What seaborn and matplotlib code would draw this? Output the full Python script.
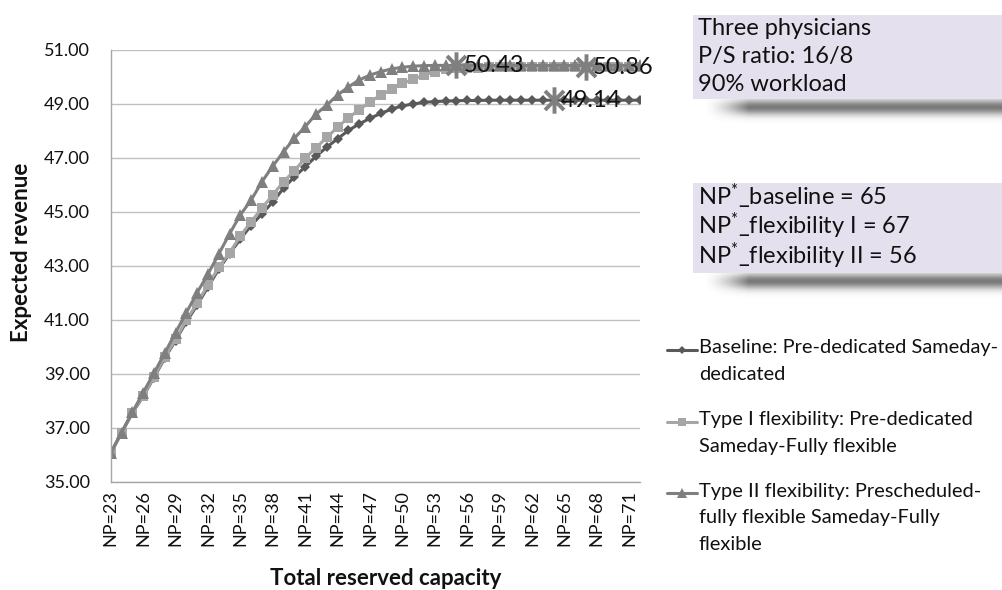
import numpy as np
import pandas as pd
import matplotlib
matplotlib.use("Agg")
import matplotlib.pyplot as plt
import seaborn as sns
from matplotlib.path import Path
from matplotlib.lines import Line2D
from matplotlib.patches import Rectangle

# ---------------------------------------------------------------- data
np_values = list(range(23, 73))

baseline = [36.07, 36.82, 37.55, 38.17, 38.87, 39.58, 40.24, 40.93, 41.55, 42.22,
            42.88, 43.45, 44.00, 44.50, 44.93, 45.37, 45.88, 46.30, 46.67, 47.06,
            47.40, 47.71, 48.02, 48.26, 48.47, 48.65, 48.81, 48.93, 49.00, 49.06,
            49.09, 49.11, 49.12, 49.13, 49.13, 49.14, 49.14, 49.14, 49.14, 49.14,
            49.14, 49.14, 49.14, 49.14, 49.14, 49.14, 49.14, 49.14, 49.14, 49.14]

type_one = [36.07, 36.83, 37.57, 38.19, 38.90, 39.62, 40.28, 41.00, 41.62, 42.30,
            42.95, 43.49, 44.11, 44.64, 45.14, 45.63, 46.12, 46.53, 46.99, 47.38,
            47.76, 48.14, 48.49, 48.78, 49.08, 49.33, 49.54, 49.77, 49.91, 50.07,
            50.20, 50.28, 50.32, 50.34, 50.35, 50.36, 50.36, 50.36, 50.36, 50.36,
            50.36, 50.36, 50.36, 50.36, 50.36, 50.36, 50.36, 50.36, 50.36, 50.36]

type_two = [36.07, 36.83, 37.58, 38.31, 39.03, 39.77, 40.53, 41.27, 42.01, 42.70,
            43.44, 44.19, 44.89, 45.44, 46.12, 46.70, 47.23, 47.73, 48.16, 48.62,
            48.96, 49.33, 49.63, 49.89, 50.07, 50.20, 50.30, 50.36, 50.40, 50.42,
            50.43, 50.43, 50.43, 50.43, 50.43, 50.43, 50.43, 50.43, 50.43, 50.43,
            50.43, 50.43, 50.43, 50.43, 50.43, 50.43, 50.43, 50.43, 50.43, 50.43]

series_labels = [
    "Baseline: Pre-dedicated Sameday-\ndedicated",
    "Type I flexibility: Pre-dedicated\nSameday-Fully flexible",
    "Type II flexibility: Prescheduled-\nfully flexible Sameday-Fully\nflexible",
]

tick_np = list(range(23, 72, 3))
tick_labels = [f"NP={n}" for n in tick_np]
y_ticks = [35, 37, 39, 41, 43, 45, 47, 49, 51]

optimum_np = [64, 67, 55]
optimum_revenue = [49.14, 50.36, 50.43]

info_lines = ["Three physicians", "P/S ratio: 16/8", "90% workload"]
optimum_lines = ["NP$^{*}$_baseline = 65",
                 "NP$^{*}$_flexibility I = 67",
                 "NP$^{*}$_flexibility II = 56"]

# ---------------------------------------------------------------- style
sns.set_style("white")
plt.rcParams["font.family"] = ["Lato", "DejaVu Sans"]
plt.rcParams["mathtext.fontset"] = "custom"
plt.rcParams["mathtext.rm"] = "Lato"
plt.rcParams["mathtext.it"] = "Lato:italic"
plt.rcParams["mathtext.bf"] = "Lato:bold"

colors = ["#595959", "#a6a6a6", "#7f7f7f"]
markers = ["D", "s", "^"]
msizes = [5.5, 7.5, 8.5]

W, H = 1002, 590
fig = plt.figure(figsize=(W / 100, H / 100), dpi=100)

ax_left, ax_right, ax_top, ax_bottom = 110.7, 640, 50, 482
ax = fig.add_axes([ax_left / W, 1 - ax_bottom / H,
                   (ax_right - ax_left) / W, (ax_bottom - ax_top) / H])

frame = pd.DataFrame({"NP": np_values * 3,
                      "revenue": baseline + type_one + type_two,
                      "series": sum([[lab] * len(np_values) for lab in series_labels], [])})

for lab, col, mk, ms in zip(series_labels, colors, markers, msizes):
    sub = frame[frame["series"] == lab]
    sns.lineplot(data=sub, x="NP", y="revenue", ax=ax, color=col, linewidth=2.2,
                 marker=mk, markersize=ms, markeredgewidth=0, legend=False)

# six-armed asterisk marks for the optimum of each policy
star = Path([(0, -1), (0, 1), (-0.72, -0.72), (0.72, 0.72), (-0.72, 0.72), (0.72, -0.72)],
            [Path.MOVETO, Path.LINETO] * 3)
ax.plot(optimum_np, optimum_revenue, linestyle="none", marker=star, markersize=19,
        markeredgewidth=2.8, markeredgecolor="#7f7f7f", zorder=5)
for xv, yv in zip(optimum_np, optimum_revenue):
    ax.annotate(f"{yv:.2f}", (xv, yv), xytext=(5, 0), textcoords="offset points",
                ha="left", va="center", fontsize=17, color="#111111", zorder=6)

ax.set_xlim(23, 72)
ax.set_ylim(35, 51)
ax.set_xticks(tick_np)
ax.set_xticklabels(tick_labels, rotation=90, fontsize=13, color="#111111")
ax.set_yticks(y_ticks)
ax.set_yticklabels([f"{v:.2f}" for v in y_ticks], fontsize=13, color="#111111")
ax.tick_params(axis="x", length=0, pad=6)
ax.tick_params(axis="y", length=0, pad=15)
ax.yaxis.grid(True, color="#c0c0c0", linewidth=1.0)
ax.xaxis.grid(False)
for side in ["top", "right"]:
    ax.spines[side].set_visible(False)
for side in ["left", "bottom"]:
    ax.spines[side].set_color("#a6a6a6")
    ax.spines[side].set_linewidth(1.0)

ax.set_xlabel("Total reserved capacity", fontsize=16, fontweight="bold", color="#111111")
ax.set_ylabel("Expected revenue", fontsize=16, fontweight="bold", color="#111111")
ax.xaxis.set_label_coords(0.52, -0.20)
ax.yaxis.set_label_coords(-0.149, 0.532)

# ---------------------------------------------------------------- side panels
ov = fig.add_axes([0, 0, 1, 1], zorder=3)
ov.set_xlim(0, W)
ov.set_ylim(H, 0)
ov.axis("off")
ov.patch.set_alpha(0)


def shadow(x0, x1, y0, y1):
    nx, ny = 300, 60
    xs = np.linspace(0, 1, nx)
    ys = np.linspace(0, 1, ny)
    gx = np.clip(xs / 0.15, 0, 1) ** 1.5
    gy = np.exp(-((ys - 0.35) / 0.3) ** 2)
    alpha = 0.75 * np.outer(gy, gx)
    rgba = np.zeros((ny, nx, 4))
    rgba[..., :3] = 0.3
    rgba[..., 3] = alpha
    ov.imshow(rgba, extent=(x0, x1, y1, y0), aspect="auto", interpolation="bilinear", zorder=1)


box_fill = "#e5e0ed"
ov.add_patch(Rectangle((693, 15), W - 693, 84, facecolor=box_fill, edgecolor="none", zorder=2))
shadow(704, W, 98, 124)
ov.add_patch(Rectangle((693, 183), W - 693, 90, facecolor=box_fill, edgecolor="none", zorder=2))
shadow(704, W, 272, 298)

ov.text(698, 18, "\n".join(info_lines), fontsize=17, color="#111111", va="top",
        ha="left", linespacing=1.42, zorder=3)
ov.text(698, 182, "\n".join(optimum_lines), fontsize=17, color="#111111", va="top",
        ha="left", linespacing=0.96, zorder=3)

# legend: handle beside the first line of each entry
legend_y = [350, 422, 493]
for lab, col, mk, ms, y in zip(series_labels, colors, markers, msizes, legend_y):
    ov.add_line(Line2D([667, 697], [y, y], color=col, linewidth=2.2, zorder=3))
    ov.add_line(Line2D([682], [y], color=col, marker=mk, markersize=ms * 0.8,
                       markeredgewidth=0, zorder=4))
    ov.text(699, y - 10.5, lab, fontsize=14.4, color="#111111", va="top",
            ha="left", linespacing=1.68, zorder=3)

fig.savefig("out.png", dpi=100)
